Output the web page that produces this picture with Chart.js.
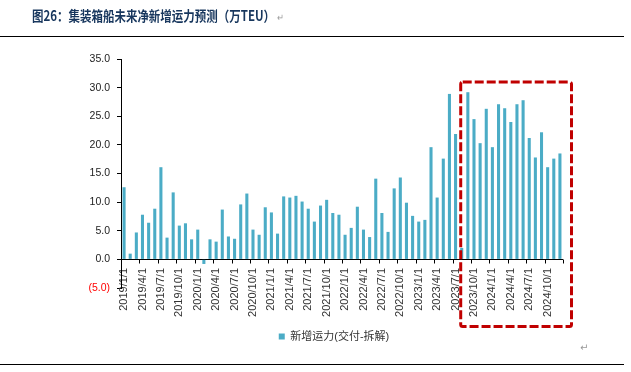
<!DOCTYPE html>
<html>
<head>
<meta charset="utf-8">
<script src="https://cdn.jsdelivr.net/npm/chart.js@4"></script>
<style>
  body { margin: 0; background: #fff; }
  #wrap { position: relative; width: 631px; height: 372px; overflow: hidden; }
  #title { position: absolute; left: 32px; top: 5px; font-family: "Noto Sans CJK SC", sans-serif; font-weight: bold; font-size: 14px; color: #17365d; white-space: nowrap; transform: scaleX(0.82); transform-origin: left center; }
  #title .ret { color: #999; font-weight: normal; font-size: 10px; margin-left: 3px; }
  .rule { position: absolute; left: 0; width: 624px; height: 0; border-top: 1.5px solid #000; }
  #ret2 { position: absolute; left: 580px; top: 342px; color: #999; font-size: 10px; font-family: "DejaVu Sans", sans-serif; }
  canvas { position: absolute; left: 0; top: 0; }
</style>
</head>
<body>
<div id="wrap">
  <canvas id="bar-chart" width="631" height="372"></canvas>
  <div id="title">图26：集装箱船未来净新增运力预测（万TEU）<span class="ret">↵</span></div>
  <div class="rule" style="top:36px"></div>
  <div class="rule" style="top:364px"></div>
  <div id="ret2">↵</div>
</div>
<script>
let months = [
    "2019/1/1", "2019/2/1", "2019/3/1", "2019/4/1", "2019/5/1", "2019/6/1",
    "2019/7/1", "2019/8/1", "2019/9/1", "2019/10/1", "2019/11/1", "2019/12/1",
    "2020/1/1", "2020/2/1", "2020/3/1", "2020/4/1", "2020/5/1", "2020/6/1",
    "2020/7/1", "2020/8/1", "2020/9/1", "2020/10/1", "2020/11/1", "2020/12/1",
    "2021/1/1", "2021/2/1", "2021/3/1", "2021/4/1", "2021/5/1", "2021/6/1",
    "2021/7/1", "2021/8/1", "2021/9/1", "2021/10/1", "2021/11/1", "2021/12/1",
    "2022/1/1", "2022/2/1", "2022/3/1", "2022/4/1", "2022/5/1", "2022/6/1",
    "2022/7/1", "2022/8/1", "2022/9/1", "2022/10/1", "2022/11/1", "2022/12/1",
    "2023/1/1", "2023/2/1", "2023/3/1", "2023/4/1", "2023/5/1", "2023/6/1",
    "2023/7/1", "2023/8/1", "2023/9/1", "2023/10/1", "2023/11/1", "2023/12/1",
    "2024/1/1", "2024/2/1", "2024/3/1", "2024/4/1", "2024/5/1", "2024/6/1",
    "2024/7/1", "2024/8/1", "2024/9/1", "2024/10/1", "2024/11/1", "2024/12/1"
];

// 新增运力(交付-拆解), 万TEU
let netAdd = [
    12.6, 1.0, 4.7, 7.8, 6.4, 8.85, 16.1, 3.8, 11.7, 5.9, 6.3, 3.5,
    5.2, -0.8, 3.5, 3.1, 8.7, 4.0, 3.6, 9.6, 11.5, 5.2, 4.3, 9.1,
    8.2, 4.5, 11.0, 10.8, 11.1, 10.1, 8.85, 6.6, 9.4, 10.4, 8.1, 7.8,
    4.3, 5.5, 9.2, 5.2, 3.9, 14.1, 8.1, 4.8, 12.4, 14.3, 9.9, 7.6,
    6.6, 6.9, 19.6, 10.8, 17.6, 28.9, 21.9, 2.0, 29.2, 24.5, 20.3, 26.3,
    19.6, 27.1, 26.4, 24.0, 27.1, 27.8, 21.2, 17.8, 22.2, 16.1, 17.6, 18.5
];

let yTicks = [-5, 0, 5, 10, 15, 20, 25, 30, 35];
let labelEvery = 3;

// tick marks hanging below the zero line, every 3 months
const zeroAxisTicks = {
    id: 'zeroAxisTicks',
    afterDatasetsDraw(c) {
        const x = c.scales.x, y = c.scales.y;
        const ctx = c.ctx;
        const y0 = Math.round(y.getPixelForValue(0)) + 0.5;
        const w = (x.right - x.left) / months.length;
        ctx.save();
        ctx.strokeStyle = '#000';
        ctx.lineWidth = 1;
        ctx.beginPath();
        for (let i = 0; i <= months.length; i += labelEvery) {
            const px = Math.round(x.left + i * w) + 0.5;
            ctx.moveTo(px, y0);
            ctx.lineTo(px, y0 + 4);
        }
        ctx.stroke();
        ctx.restore();
    }
};

// red dashed highlight round the forecast period
const forecastBox = {
    id: 'forecastBox',
    afterDraw(c) {
        const x = c.scales.x, y = c.scales.y;
        const ctx = c.ctx;
        const left = x.getPixelForValue(55) - 1;
        const right = x.right + 8.5;
        const top = y.getPixelForValue(31);
        const bottom = 326.5;
        ctx.save();
        ctx.strokeStyle = '#c00000';
        ctx.lineWidth = 3;
        ctx.setLineDash([9, 3]);
        ctx.beginPath();
        ctx.roundRect(left, top, right - left, bottom - top, 2);
        ctx.stroke();
        ctx.restore();
    }
};

let chart = new Chart(document.getElementById("bar-chart"), {
    type: 'bar',
    data: {
        labels: months,
        datasets: [
            {
                data: netAdd,
                label: "新增运力(交付-拆解)",
                backgroundColor: "#4bacc6",
                barPercentage: 0.5,
                categoryPercentage: 1.0
            }
        ]
    },
    options: {
        responsive: false,
        animation: false,
        layout: {
            padding: { left: 80, right: 43, top: 59, bottom: 20 }
        },
        plugins: {
            legend: {
                position: 'bottom',
                labels: {
                    boxWidth: 6,
                    boxHeight: 6,
                    padding: 8,
                    color: '#333',
                    font: { family: 'Liberation Sans, Arial, "Noto Sans CJK SC"', size: 11 }
                }
            },
            tooltip: { enabled: false }
        },
        scales: {
            x: {
                grid: { display: false },
                border: { display: false },
                ticks: {
                    autoSkip: false,
                    maxRotation: 90,
                    minRotation: 90,
                    mirror: true,
                    padding: 20,
                    labelOffset: 13.2,
                    color: '#333',
                    font: { family: 'Liberation Sans, Arial', size: 11 },
                    callback: (v, i) => i % labelEvery === 0 ? months[i] : ''
                },
                afterFit: (s) => { s.height = 35; }
            },
            y: {
                min: -5,
                max: 35,
                afterBuildTicks: (s) => { s.ticks = yTicks.map(v => ({ value: v })); },
                grid: {
                    color: (ctx) => ctx.tick && ctx.tick.value === 0 ? '#000' : 'rgba(0,0,0,0)',
                    tickColor: '#000',
                    tickLength: 4
                },
                border: { display: true, color: '#000', width: 1 },
                ticks: {
                    padding: 7,
                    color: (ctx) => ctx.tick && ctx.tick.value < 0 ? '#ff0000' : '#222',
                    font: { family: 'Liberation Sans, Arial', size: 10.5 },
                    callback: (v) => v < 0 ? '(' + Math.abs(v).toFixed(1) + ')' : v.toFixed(1)
                },
                afterFit: (s) => { s.width = 41; }
            },
            // empty right-hand spacer so the legend sits centred like the original
            spacer: {
                type: 'linear',
                position: 'right',
                display: true,
                grid: { display: false },
                border: { display: false },
                ticks: { display: false },
                afterFit: (s) => { s.width = 25; }
            }
        }
    },
    plugins: [zeroAxisTicks, forecastBox]
});
</script>
</body>
</html>
